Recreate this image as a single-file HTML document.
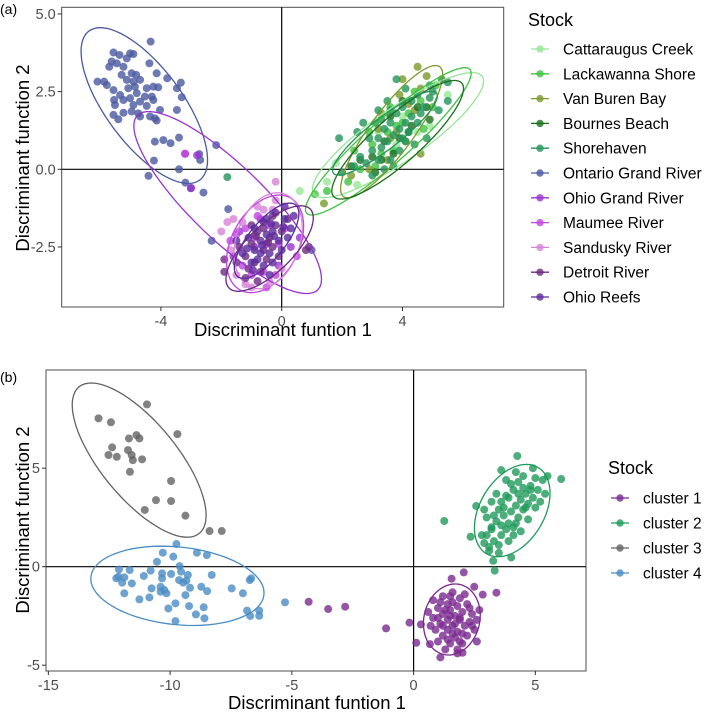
<!DOCTYPE html>
<html><head><meta charset="utf-8">
<style>
html,body{margin:0;padding:0;background:#fff;}
svg{display:block;font-family:"Liberation Sans",Arial,sans-serif;}
</style></head>
<body>
<svg id="chart" width="709" height="713" viewBox="0 0 709 713" xmlns="http://www.w3.org/2000/svg">
  <text x="0" y="14" font-size="14" fill="#000">(a)</text>
  <text x="0" y="382" font-size="14" fill="#000">(b)</text>
  <g id="pa"></g>
  <g id="pb"></g>
</svg>
<script>
// ---------- Panel A data ----------
const aNames = ["Cattaraugus Creek","Lackawanna Shore","Van Buren Bay","Bournes Beach","Shorehaven","Ontario Grand River","Ohio Grand River","Maumee River","Sandusky River","Detroit River","Ohio Reefs"];
const aColors = ["#98e698","#3fc23f","#7b9a2b","#1c6e1c","#23955a","#4a5aa0","#9a32d2","#c045e0","#d785d8","#6b2a82","#5b2a9e"];
const aXTicks = [-4,0,4];
const aYTicks = [5.0,2.5,0.0,-2.5];
const aYTickLabels = ["5.0","2.5","0.0","-2.5"];
const ptsCattaraugus = [[0.6,-0.7],[1.8,0.2],[3.2,1.2],[4.5,1.2],[5.5,2.4],[4.0,1.7],[2.5,-0.5],[4.9,1.4],[3.8,0.8],[1.5,-0.4]];
const ptsLackawanna = [[1.1,-0.8],[1.5,-0.7],[2.2,-0.4],[2.6,0.0],[3.0,0.8],[3.5,1.2],[4.2,1.8],[4.6,2.2],[5.0,2.0],[2.9,1.2],[3.7,0.6],[4.0,1.5],[3.3,0.5],[4.4,2.5],[3.8,1.4],[2.4,0.6],[5.1,2.7],[4.7,1.3],[3.1,0.1],[3.6,2.0]];
const ptsVanBuren = [[1.4,-1.1],[2.3,-0.2],[3.3,1.8],[3.8,1.2],[4.2,2.1],[4.0,2.9],[4.5,3.3],[4.8,3.0],[4.6,2.6],[3.5,0.3],[2.9,0.0],[4.1,0.9],[3.9,2.4],[4.6,0.5],[3.2,1.3],[4.4,1.9],[3.6,1.0]];
const ptsBournes = [[2.3,0.1],[3.0,0.4],[3.3,0.3],[3.9,1.0],[4.3,1.4],[4.8,2.0],[3.6,1.7],[4.0,2.2],[3.1,-0.1],[2.6,0.3],[4.5,2.0],[3.4,0.9],[4.2,1.2],[4.9,1.6],[3.7,0.5]];
const ptsShorehaven = [[2.8,0.2],[3.0,0.6],[3.2,1.0],[3.4,1.3],[3.6,1.5],[3.8,1.8],[4.0,2.0],[4.3,2.2],[4.5,2.4],[4.7,2.0],[4.9,2.3],[3.1,1.5],[3.3,0.7],[3.5,0.9],[3.7,1.1],[3.9,1.3],[4.1,1.5],[4.3,1.7],[4.5,1.5],[4.1,0.9],[3.9,0.6],[3.6,0.3],[3.4,0.0],[2.9,1.0],[3.2,1.9],[2.6,0.4],[2.4,0.1],[2.0,-0.1],[2.5,1.2],[2.7,1.5],[4.8,1.0],[5.2,1.9],[5.5,2.2],[5.5,2.8],[5.3,2.9],[4.9,2.7],[5.0,2.5],[3.8,2.9],[4.1,2.6],[3.5,2.2],[4.2,1.2],[3.0,-0.2],[3.7,0.1],[4.4,0.8],[3.3,1.6],[3.6,1.9],[4.0,1.0],[1.9,1.0],[3.2,0.3],[4.6,1.8],[-1.8,-0.25]];
const ptsOntario = [[-4.34,4.11],[-5.57,3.76],[-5.37,3.68],[-5.02,3.73],[-4.91,3.71],[-5.13,3.57],[-5.63,3.47],[-5.46,3.41],[-5.71,3.30],[-5.24,3.30],[-4.38,3.41],[-4.97,3.09],[-4.82,3.04],[-5.30,3.04],[-4.14,3.09],[-3.79,2.93],[-6.10,2.82],[-5.88,2.82],[-5.79,2.71],[-5.13,2.88],[-4.91,2.82],[-4.69,2.88],[-3.34,2.79],[-3.47,2.61],[-5.57,2.55],[-5.08,2.61],[-4.86,2.66],[-4.47,2.61],[-4.25,2.66],[-4.09,2.64],[-5.35,2.39],[-4.80,2.45],[-4.53,2.34],[-4.30,2.34],[-3.31,2.32],[-5.55,2.23],[-5.24,2.23],[-5.02,2.29],[-4.69,2.18],[-4.25,2.23],[-5.52,2.07],[-4.91,2.07],[-4.47,2.04],[-3.47,1.91],[-4.03,1.91],[-5.24,1.82],[-4.97,1.86],[-4.75,1.80],[-4.69,1.70],[-5.57,1.75],[-5.41,1.61],[-4.36,1.70],[-4.20,1.64],[-4.14,1.57],[-4.20,0.89],[-3.92,0.94],[-3.68,0.84],[-3.40,1.02],[-2.17,0.78],[-4.23,0.28],[-2.73,0.49],[-2.70,0.30],[-3.40,0.0],[-4.41,-0.21],[-3.19,-0.43],[-3.01,-0.61],[-2.59,-0.75],[-1.77,-1.28],[-2.32,-2.30],[0.99,-2.6]];
const ptsOhioGR = [[-3.2,0.5],[-2.8,0.45],[-3.0,-0.6],[-0.7,-1.6],[-0.9,-2.5],[-1.4,-2.0],[0.3,-2.5],[-0.5,-2.4],[-0.1,-3.1],[-1.6,-2.8],[0.6,-2.2]];
const ptsMaumee = [[-0.4,-1.8],[-0.8,-1.5],[-1.2,-1.9],[-1.5,-2.1],[0.1,-1.9],[-0.6,-3.3],[-1.0,-3.4],[-0.2,-3.4],[-0.5,-3.8],[-1.3,-3.1],[0.5,-2.8],[-0.1,-2.4],[-1.7,-2.3],[-0.9,-2.2],[-3.2,0.5]];
const ptsSandusky = [[-1.3,-1.7],[-1.6,-1.6],[-1.8,-1.7],[-0.6,-1.3],[-0.2,-1.0],[-1.2,-3.7],[-1.0,-3.8],[-0.4,-3.6],[-1.7,-2.6],[-2.0,-2.0],[-0.3,-1.3],[-0.8,-1.2],[-0.2,-0.4],[0.0,-3.2],[-1.5,-3.4]];
const ptsDetroit = [[-0.8,-2.0],[-1.0,-2.4],[-0.6,-2.6],[-1.2,-2.8],[-0.4,-2.2],[-0.2,-1.8],[-0.9,-3.0],[-1.4,-2.5],[-0.3,-2.5],[0.0,-2.0],[-0.7,-3.3],[-1.1,-3.2],[-0.5,-2.9],[0.2,-1.6],[-1.5,-3.0],[-1.9,-2.9],[-1.9,-3.3],[-0.1,-2.8],[-0.6,-1.9],[-1.2,-3.5],[0.8,-2.6],[0.9,-2.5],[-0.8,-3.6],[-0.3,-1.5],[-1.0,-1.8],[-0.45,-2.35],[-0.85,-2.15]];
const ptsOhioReefs = [[-0.5,-2.1],[-0.7,-2.3],[-0.3,-2.0],[-0.9,-2.6],[-0.1,-2.3],[-1.1,-2.2],[-0.6,-1.7],[-0.2,-1.4],[0.1,-1.6],[0.3,-1.9],[-0.4,-2.7],[-0.8,-2.9],[-1.3,-2.7],[-1.0,-3.0],[0.0,-2.6],[-0.6,-3.1],[0.4,-1.5],[-0.3,-3.0],[-1.5,-2.3],[0.2,-2.2],[-0.5,-1.6],[-0.9,-1.9],[-0.4,-3.4],[0.1,-1.2],[-0.7,-2.7],[-0.25,-2.15],[-0.65,-2.45],[-1.15,-2.55],[0.05,-1.85],[-0.35,-1.75],[-0.95,-3.25]];
const aEllCx = [3.85,3.53,3.64,3.84,3.42,-4.55,-1.79,-0.55,-0.45,-0.4,-0.5];
const aEllCy = [1.1,0.9,1.21,0.95,1.16,2.05,-1.07,-2.4,-2.3,-2.55,-2.3];
const aEllA = [3.37,3.56,2.63,2.8,2.14,3.02,4.1,1.7,1.6,1.85,1.5];
const aEllB = [0.85,0.7,0.7,0.75,0.5,1.25,1.2,1.1,1.05,0.75,0.6];
const aEllAng = [34,40.5,52.6,40.6,37,-52.3,-43,60,70,43,50];

// ---------- Panel B data ----------
const bNames = ["cluster 1","cluster 2","cluster 3","cluster 4"];
const bColors = ["#7b2a90","#1f9a5a","#636363","#4a8cc4"];
const bXTicks = [-15,-10,-5,0,5];
const bYTicks = [5,0,-5];
const ptsC1 = [[-4.31,-1.78],[-3.51,-2.15],[-2.81,-2.03],[-1.13,-3.13],[-0.17,-2.84],[0.11,-3.86],[2.06,-0.29],[1.56,-0.61],[2.49,-1.02],[2.84,-1.42],[3.40,-1.32],[1.10,-4.60],[2.01,-4.37],[0.30,-2.93],[0.67,-3.93],[1.6,-1.3],[1.2,-1.5],[1.9,-1.6],[1.4,-1.9],[1.8,-2.0],[2.2,-1.9],[1.0,-2.1],[1.5,-2.2],[2.0,-2.3],[1.2,-2.4],[1.7,-2.5],[2.4,-2.4],[0.8,-2.6],[1.4,-2.7],[1.9,-2.7],[2.3,-2.8],[1.1,-2.9],[1.6,-3.0],[2.1,-3.0],[0.9,-3.2],[1.4,-3.2],[1.8,-3.3],[2.5,-3.2],[1.2,-3.5],[1.7,-3.6],[2.2,-3.5],[1.0,-3.8],[1.5,-3.9],[2.0,-3.9],[1.3,-4.2],[1.8,-4.2],[2.6,-3.8],[0.6,-2.3],[2.7,-2.2],[1.1,-1.8],[2.1,-1.4],[1.6,-1.8],[1.3,-2.2],[1.9,-2.6],[1.5,-2.5],[1.7,-2.9],[1.2,-3.0],[2.0,-3.4],[1.6,-3.4],[1.4,-3.7],[1.9,-3.8],[0.7,-3.0],[2.3,-2.1],[1.8,-4.4],[1.0,-2.6],[2.4,-3.0],[1.5,-1.5],[0.8,-1.7],[2.6,-2.7]];
const ptsC2 = [[1.26,2.32],[4.26,5.62],[6.06,4.45],[3.27,0.30],[3.33,-0.20],[4.01,0.47],[2.34,1.52],[2.57,3.08],[3.1,1.0],[3.3,1.3],[3.0,1.6],[3.5,1.1],[3.2,2.0],[3.6,1.6],[3.4,2.3],[3.8,1.9],[3.0,2.5],[3.7,2.6],[3.9,2.2],[4.1,2.0],[3.5,2.9],[4.0,2.8],[4.3,2.5],[3.6,3.3],[4.2,3.1],[4.5,2.9],[3.9,3.5],[4.4,3.4],[4.7,3.2],[4.1,3.9],[4.6,3.7],[4.9,3.5],[4.3,4.3],[4.8,4.1],[5.1,3.9],[4.5,4.6],[5.0,4.5],[4.9,5.0],[5.3,4.4],[3.6,4.9],[3.8,4.4],[4.2,4.8],[5.4,3.7],[2.8,1.6],[2.9,2.9],[3.2,3.3],[3.9,1.3],[4.4,1.8],[3.4,3.7],[4.7,2.4],[5.2,3.3],[4.0,4.2],[3.3,2.6],[4.8,3.9],[3.7,3.0],[4.2,2.2],[4.5,4.0],[5.5,4.6],[3.1,0.8],[3.5,0.7],[2.9,1.2],[4.6,3.0],[4.3,3.7],[3.8,3.6],[5.0,3.0],[4.1,1.6],[3.2,1.9],[3.6,2.1]];
const ptsC3 = [[-12.94,7.53],[-12.43,7.33],[-10.95,8.24],[-9.70,6.73],[-12.38,6.06],[-12.53,5.67],[-12.19,5.58],[-11.69,6.51],[-11.38,6.68],[-11.26,6.51],[-11.73,5.92],[-11.58,5.67],[-11.53,5.41],[-11.15,5.45],[-11.65,4.82],[-9.96,4.35],[-10.58,3.38],[-9.96,3.33],[-11.04,2.88],[-9.37,2.59],[-8.38,1.81],[-7.88,1.81]];
const ptsC4 = [[-9.74,1.15],[-10.30,0.71],[-9.87,0.51],[-10.54,0.25],[-8.90,0.71],[-8.49,0.59],[-9.61,0.03],[-12.10,-0.14],[-11.66,-0.17],[-12.12,-0.51],[-11.88,-0.54],[-12.21,-0.59],[-11.08,-0.47],[-10.80,-0.20],[-10.33,-0.34],[-9.96,-0.37],[-9.55,-0.25],[-10.33,-0.59],[-9.63,-0.68],[-9.33,-0.71],[-9.27,-0.42],[-8.29,-0.42],[-6.67,-0.59],[-6.73,-0.68],[-11.57,-0.85],[-11.97,-0.81],[-10.76,-1.10],[-10.39,-1.02],[-10.24,-1.18],[-10.15,-1.35],[-9.46,-0.81],[-9.18,-1.07],[-8.72,-1.02],[-8.48,-1.24],[-7.47,-1.10],[-7.01,-1.35],[-11.88,-1.35],[-11.26,-1.66],[-10.85,-1.56],[-10.39,-1.27],[-9.37,-1.44],[-9.78,-1.86],[-10.07,-2.12],[-9.22,-2.00],[-8.62,-2.06],[-8.94,-2.42],[-8.59,-2.62],[-9.78,-2.76],[-6.84,-2.23],[-6.71,-2.50],[-6.34,-2.23],[-6.34,-2.49],[-5.28,-1.81]];
const bEllCx = [1.57,4.05,-11.27,-9.7];
const bEllCy = [-2.68,2.85,5.41,-0.97];
const bEllUx = [0.2,0.85,-2.47,3.55];
const bEllUy = [1.8,2.3,3.72,-0.5];
const bEllVx = [1.15,1.3,1.21,0.25];
const bEllVy = [-0.1,-0.45,1.22,1.95];

const NS="http://www.w3.org/2000/svg";
function mk(tag,attrs,parent){const e=document.createElementNS(NS,tag);for(const k in attrs)e.setAttribute(k,attrs[k]);parent.appendChild(e);return e;}

const A={L:61.7,R:503.7,T:7.3,B:307,x0:281.7,kx:30.2,y0:169.3,ky:31.07};
const Bp={L:46,R:586,T:370,B:671,x0:413.6,kx:24.35,y0:566.7,ky:19.7};
const sx=(P,v)=>P.x0+v*P.kx, sy=(P,v)=>P.y0-v*P.ky;

function axes(P,g,xt,yt,ytl,prefix){
  const f=mk('rect',{x:P.L,y:P.T,width:P.R-P.L,height:P.B-P.T,fill:'none',stroke:'#4d4d4d','stroke-width':1},g);
  
  
  xt.forEach((v)=>{const x=sx(P,v);
    const t=mk('line',{x1:x,x2:x,y1:P.B,y2:P.B+4,stroke:'#333'},g);
    
    
    const l=mk('text',{x:x,y:P.B+19,'font-size':14.5,fill:'#4d4d4d','text-anchor':'middle'},g);l.textContent=v;
    
    });
  yt.forEach((v,i)=>{const y=sy(P,v);
    const t=mk('line',{x1:P.L-4,x2:P.L,y1:y,y2:y,stroke:'#333'},g);
    
    
    const l=mk('text',{x:P.L-6,y:y+5,'font-size':14.5,fill:'#4d4d4d','text-anchor':'end'},g);l.textContent=ytl?ytl[i]:v;
    
    });
  const h=mk('line',{x1:P.L,x2:P.R,y1:sy(P,0),y2:sy(P,0),stroke:'#000','stroke-width':1.2},g);
  
  
  const vl=mk('line',{x1:sx(P,0),x2:sx(P,0),y1:P.T,y2:P.B,stroke:'#000','stroke-width':1.2},g);
  
  
}
function points(P,g,pts,col,name){
  pts.forEach(p=>{const c=mk('circle',{cx:sx(P,p[0]),cy:sy(P,p[1]),r:4,fill:col,'fill-opacity':0.8},g);
    
    });
}
function ellipse(P,g,cx,cy,ux,uy,vx,vy,col,name){
  let d='';
  for(let i=0;i<=72;i++){const t=i/72*2*Math.PI;
    const x=cx+ux*Math.cos(t)+vx*Math.sin(t), y=cy+uy*Math.cos(t)+vy*Math.sin(t);
    d+=(i?'L':'M')+sx(P,x).toFixed(1)+' '+sy(P,y).toFixed(1);}
  const e=mk('path',{d:d+'Z',fill:'none',stroke:col,'stroke-width':1.3},g);
  
  
}
function legend(g,x,ty,y0,step,names,cols,prefix){
  const t=mk('text',{x:x,y:ty,'font-size':18,fill:'#000'},g);t.textContent='Stock';
  
  
  names.forEach((n,i)=>{const y=y0+i*step;
    const gg=mk('g',{},g);
    
    
    mk('line',{x1:x+3,x2:x+21,y1:y,y2:y,stroke:cols[i],'stroke-width':1.3},gg);
    mk('circle',{cx:x+12,cy:y,r:3.7,fill:cols[i],'fill-opacity':0.8},gg);
    const l=mk('text',{x:x+35,y:y+5.5,'font-size':15.5,fill:'#000'},gg);l.textContent=n;});
}

const ga=document.getElementById('pa');
const aPts=[ptsCattaraugus,ptsLackawanna,ptsVanBuren,ptsBournes,ptsShorehaven,ptsOntario,ptsOhioGR,ptsMaumee,ptsSandusky,ptsDetroit,ptsOhioReefs];
axes(A,ga,aXTicks,aYTicks,aYTickLabels,'a');
aPts.forEach((p,i)=>points(A,ga,p,aColors[i],aNames[i].toLowerCase().replace(/ /g,'-')));
aNames.forEach((n,i)=>{const th=aEllAng[i]*Math.PI/180;
  ellipse(A,ga,aEllCx[i],aEllCy[i],aEllA[i]*Math.cos(th),aEllA[i]*Math.sin(th),-aEllB[i]*Math.sin(th),aEllB[i]*Math.cos(th),aColors[i],n.toLowerCase().replace(/ /g,'-'));});
legend(ga,528,26,49,24.8,aNames,aColors,'a');
let tx=mk('text',{x:283,y:336,'font-size':18.5,'text-anchor':'middle',fill:'#000'},ga);tx.textContent='Discriminant funtion 1';


let ty=mk('text',{x:0,y:0,'font-size':18.5,'text-anchor':'middle',fill:'#000',transform:'translate(29,158) rotate(-90)'},ga);ty.textContent='Discriminant function 2';



const gb=document.getElementById('pb');
const bPts=[ptsC1,ptsC2,ptsC3,ptsC4];
axes(Bp,gb,bXTicks,bYTicks,null,'b');
bPts.forEach((p,i)=>points(Bp,gb,p,bColors[i],bNames[i].replace(/ /g,'-')));
bNames.forEach((n,i)=>ellipse(Bp,gb,bEllCx[i],bEllCy[i],bEllUx[i],bEllUy[i],bEllVx[i],bEllVy[i],bColors[i],n.replace(/ /g,'-')));
legend(gb,608,474,498,25,bNames,bColors,'b');
tx=mk('text',{x:317,y:709,'font-size':18.5,'text-anchor':'middle',fill:'#000'},gb);tx.textContent='Discriminant funtion 1';


ty=mk('text',{x:0,y:0,'font-size':18.5,'text-anchor':'middle',fill:'#000',transform:'translate(29,520) rotate(-90)'},gb);ty.textContent='Discriminant function 2';


</script>
</body></html>
